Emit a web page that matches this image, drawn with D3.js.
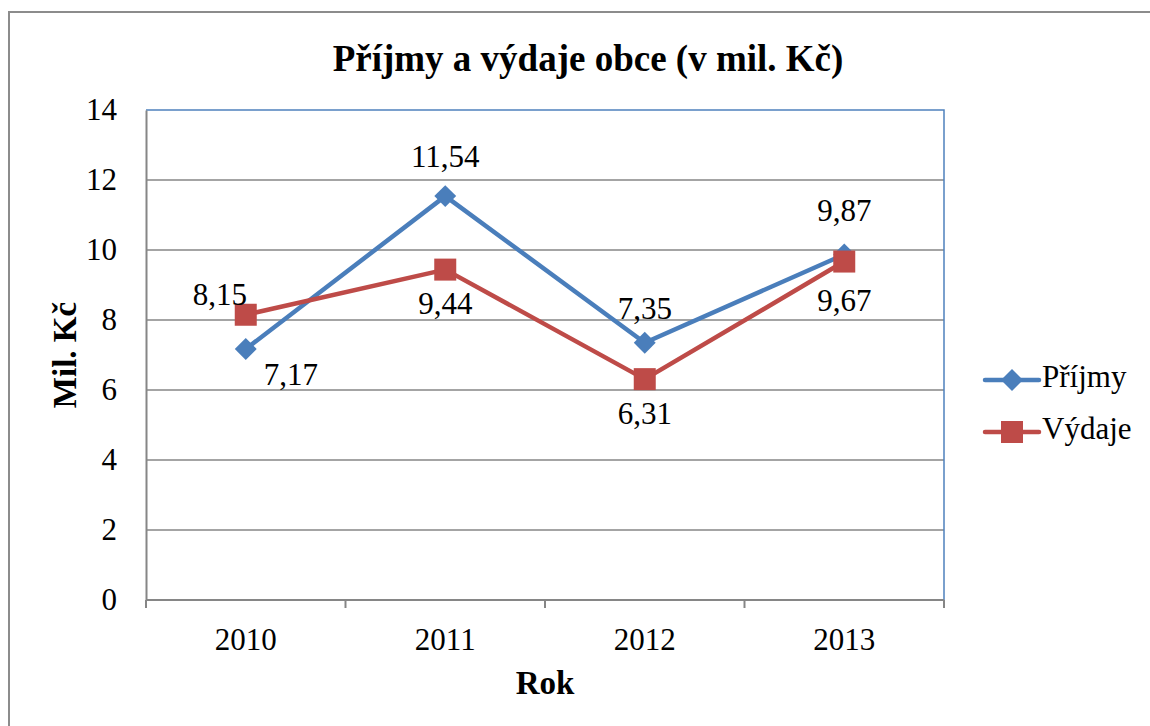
<!DOCTYPE html>
<html>
<head>
<meta charset="utf-8">
<script src="https://cdn.jsdelivr.net/npm/d3@7"></script>
<style>
  body { margin: 0; background: #fff; }
  text { font-family: "Liberation Serif", "Times New Roman", serif; fill: #000; }
</style>
</head>
<body>
<div id="chart"></div>
<script>
const years = ['2010', '2011', '2012', '2013'];
const prijmy = [7.17, 11.54, 7.35, 9.87];
const vydaje = [8.15, 9.44, 6.31, 9.67];
const yTicks = [0, 2, 4, 6, 8, 10, 12, 14];

const width = 1150, height = 726;
const margin = { left: 146, top: 110, right: 206, bottom: 126 };
const plotW = width - margin.left - margin.right;
const plotH = height - margin.top - margin.bottom;
const FS = '31px';

const svg = d3.select('#chart').append('svg')
  .attr('width', width).attr('height', height);

// outer frame
svg.append('rect')
  .attr('x', 9).attr('y', 12).attr('width', width).attr('height', height)
  .attr('fill', 'none').attr('stroke', '#8c8c8c').attr('stroke-width', 2);

const x = d3.scaleBand().domain(years).range([0, plotW]);
const y = d3.scaleLinear().domain([0, 14]).range([plotH, 0]);

const g = svg.append('g').attr('transform', `translate(${margin.left},${margin.top})`);

// gridlines
g.selectAll('.grid').data(yTicks.slice(1, -1)).enter().append('line')
  .attr('x1', 0).attr('x2', plotW)
  .attr('y1', d => y(d)).attr('y2', d => y(d))
  .attr('stroke', '#868686').attr('stroke-width', 1.5);

// plot border top/right (blue)
g.append('path')
  .attr('d', `M0,0H${plotW}V${plotH}`)
  .attr('fill', 'none').attr('stroke', '#4f81bd').attr('stroke-width', 1.5);

// y axis
const yAxis = g.append('g').call(d3.axisLeft(y).tickValues(yTicks).tickSize(0).tickPadding(29));
yAxis.select('.domain').attr('stroke', '#868686').attr('stroke-width', 2);
yAxis.selectAll('text').style('font-size', FS).style('font-family', '"Liberation Serif", serif');

// x axis
const xTickPos = d3.range(years.length + 1).map(i => i * x.step());
const xAxisG = g.append('g').attr('transform', `translate(0,${plotH})`);
xAxisG.append('line').attr('x1', 0).attr('x2', plotW)
  .attr('stroke', '#868686').attr('stroke-width', 2);
xAxisG.selectAll('.tk').data(xTickPos).enter().append('line')
  .attr('x1', d => d).attr('x2', d => d).attr('y1', 0).attr('y2', 8)
  .attr('stroke', '#868686').attr('stroke-width', 2);
xAxisG.selectAll('.lbl').data(years).enter().append('text')
  .attr('x', d => x(d) + x.bandwidth() / 2).attr('y', 50)
  .attr('text-anchor', 'middle').style('font-size', FS).text(d => d);

const cx = d => x(d) + x.bandwidth() / 2;
const line = d3.line().x((d, i) => cx(years[i])).y(d => y(d));

const series = [
  { name: 'Příjmy', values: prijmy, color: '#4a7ebb', marker: 'diamond',
    offs: [[45, 29], [0, -36], [0, -31], [0, -41]] },
  { name: 'Výdaje', values: vydaje, color: '#be4b48', marker: 'square',
    offs: [[-26, -17], [0, 37], [0, 38], [0, 42]] }
];

function marker(sel, s, px, py) {
  if (s.marker === 'diamond') {
    sel.append('path').attr('d', d3.symbol().type(d3.symbolSquare).size(240)())
      .attr('transform', `translate(${px},${py}) rotate(45)`)
      .attr('fill', s.color);
  } else {
    sel.append('rect').attr('x', px - 11).attr('y', py - 11)
      .attr('width', 22).attr('height', 22).attr('fill', s.color);
  }
}

series.forEach(s => {
  g.append('path').datum(s.values)
    .attr('d', line).attr('fill', 'none')
    .attr('stroke', s.color).attr('stroke-width', 4.5).attr('stroke-linejoin', 'round');
});

series.forEach(s => {
  s.values.forEach((v, i) => marker(g, s, cx(years[i]), y(v)));
});

series.forEach(s => {
  s.values.forEach((v, i) => {
    g.append('text')
      .attr('x', cx(years[i]) + s.offs[i][0])
      .attr('y', y(v) + s.offs[i][1])
      .attr('text-anchor', 'middle')
      .attr('dominant-baseline', 'middle')
      .style('font-size', FS)
      .text(d3.format('.2f')(v).replace('.', ','));
  });
});

// title
svg.append('text').attr('x', 588).attr('y', 71)
  .attr('text-anchor', 'middle').style('font-size', '37px').style('font-weight', 'bold')
  .text('Příjmy a výdaje obce (v mil. Kč)');

// axis titles
svg.append('text').attr('transform', `translate(76,${margin.top + plotH / 2}) rotate(-90)`)
  .attr('text-anchor', 'middle').style('font-size', '33px').style('font-weight', 'bold')
  .text('Mil. Kč');
svg.append('text').attr('x', margin.left + plotW / 2).attr('y', 694)
  .attr('text-anchor', 'middle').style('font-size', '33px').style('font-weight', 'bold')
  .text('Rok');

// legend
const leg = svg.append('g').attr('transform', 'translate(985,380)');
series.forEach((s, i) => {
  const gy = i * 52;
  leg.append('line').attr('x1', 0).attr('x2', 54).attr('y1', gy).attr('y2', gy)
    .attr('stroke', s.color).attr('stroke-width', 4.5).attr('stroke-linecap', 'round');
  marker(leg, s, 27, gy);
  leg.append('text').attr('x', 57).attr('y', gy).attr('dominant-baseline', 'middle')
    .style('font-size', FS).text(s.name);
});
</script>
</body>
</html>
